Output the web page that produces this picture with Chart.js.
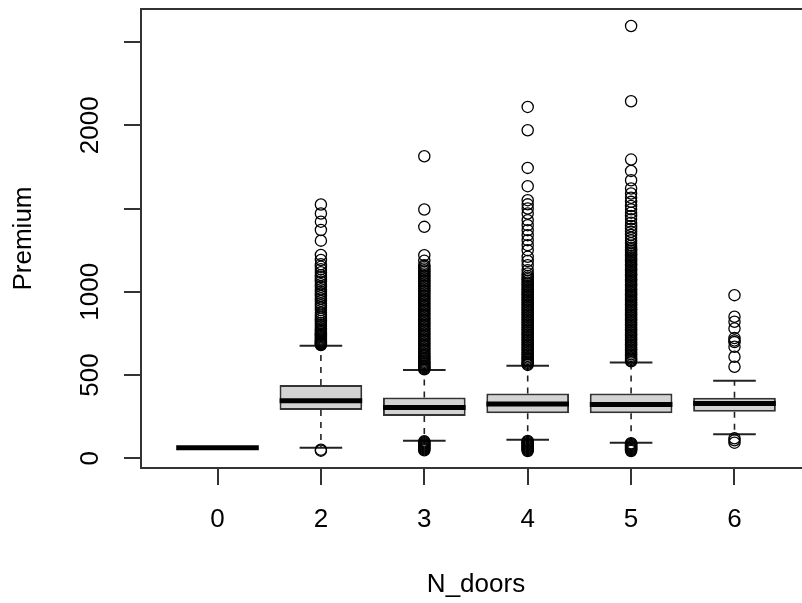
<!DOCTYPE html>
<html>
<head>
<meta charset="utf-8">
<script src="https://cdn.jsdelivr.net/npm/chart.js@4"></script>
<style>
  html, body { margin: 0; padding: 0; background: #fff; overflow: hidden; }
  canvas { display: block; }
</style>
</head>
<body>
<canvas id="boxChart" width="820" height="603"></canvas>
<script>
// N_doors categories and box statistics
var categories = ['0', '2', '3', '4', '5', '6'];
var q1 = [64, 290, 254, 270, 270, 280];
var medians = [64, 346, 306, 326, 324, 330];
var q3 = [64, 440, 366, 390, 390, 364];
var whiskerLow = [64, 64, 106, 112, 94, 144];
var whiskerHigh = [64, 676, 530, 556, 576, 466];

// outliers per category
var outliers0 = [];
var outliers2 = [46, 52,
    1524, 1470, 1421, 1371, 1307, 1221, 1191, 1165, 1150, 1135, 1118, 1100, 1088, 1072, 1060, 1045,
    1030, 1015, 1000, 988, 975, 960, 945, 930, 918, 905, 890, 875, 862, 850, 838, 825, 812, 800,
    790, 780, 772, 764, 756, 748, 741, 734, 727, 720, 714, 708, 702, 697, 692, 688, 684, 680];
var outliers3 = [48, 54, 60, 66, 72, 78, 84, 90, 96, 102,
    1814, 1494, 1390, 1220, 1186, 1160, 1150, 1140, 1130, 1120, 1110, 1100, 1090, 1080, 1070, 1060,
    1050, 1040, 1030, 1020, 1010, 1000, 990, 980, 970, 960, 950, 940, 930, 920, 910, 900, 890, 880,
    870, 860, 850, 840, 830, 820, 810, 800, 790, 780, 770, 760, 750, 740, 730, 720, 710, 700, 690,
    680, 670, 660, 650, 640, 630, 620, 612, 604, 596, 588, 580, 572, 565, 558, 552, 546, 540, 535];
var outliers4 = [44, 50, 56, 62, 68, 74, 80, 86, 92, 98, 104,
    2110, 1970, 1744, 1634, 1550, 1525, 1500, 1470, 1430, 1400, 1370, 1340, 1310, 1280, 1250, 1210,
    1185, 1160, 1130, 1110, 1095, 1085, 1075, 1065, 1055, 1045, 1035, 1025, 1015, 1005, 995, 985,
    975, 965, 955, 945, 935, 925, 915, 905, 895, 885, 875, 865, 855, 845, 835, 825, 815, 805, 795,
    785, 775, 765, 755, 745, 735, 725, 715, 705, 695, 685, 675, 665, 655, 645, 635, 625, 615, 605,
    597, 589, 581, 574, 567, 561];
var outliers5 = [44, 50, 56, 62, 68, 74, 80, 86, 91,
    2596, 2144, 1794, 1726, 1670, 1620, 1590, 1565, 1540, 1515, 1495, 1475, 1455, 1435, 1415, 1395,
    1378, 1360, 1342, 1325, 1308, 1292, 1277, 1265, 1255, 1245, 1235, 1225, 1215, 1205, 1195, 1185,
    1175, 1165, 1155, 1145, 1135, 1125, 1115, 1105, 1095, 1085, 1075, 1065, 1055, 1045, 1035, 1025,
    1015, 1005, 995, 985, 975, 965, 955, 945, 935, 925, 915, 905, 895, 885, 875, 865, 855, 845, 835,
    825, 815, 805, 795, 785, 775, 765, 755, 745, 735, 725, 715, 705, 695, 685, 675, 665, 655, 645,
    635, 625, 615, 606, 598, 590, 583];
var outliers6 = [94, 108, 120,
    980, 850, 820, 780, 722, 708, 698, 670, 610, 550];
var outliers = [outliers0, outliers2, outliers3, outliers4, outliers5, outliers6];

// y axis tick marks, and the labels R actually printed (1500 and 2500 were dropped)
var yTickMarks = [0, 500, 1000, 1500, 2000, 2500];
var yTickValues = [0, 500, 1000, 2000];
var yTickLabels = ['0', '500', '1000', '2000'];

Chart.defaults.font.family = '"Liberation Sans", Arial, sans-serif';
Chart.defaults.color = '#000';

var fontSize = 26;

var boxData = categories.map(function (c, i) { return { x: i + 1, y: [q1[i], q3[i]] }; });
var medianData = categories.map(function (c, i) { return { x: i + 1, y: medians[i] }; });
var capData = [];
var whiskerData = [];
categories.forEach(function (c, i) {
    capData.push({ x: i + 1, y: whiskerLow[i] }, { x: i + 1, y: whiskerHigh[i] });
    whiskerData.push(
        { x: i + 1, y: q3[i] }, { x: i + 1, y: whiskerHigh[i] }, { x: i + 1, y: null },
        { x: i + 1, y: q1[i] }, { x: i + 1, y: whiskerLow[i] }, { x: i + 1, y: null }
    );
});
var outlierData = [];
outliers.forEach(function (list, i) {
    list.forEach(function (v) { outlierData.push({ x: i + 1, y: v }); });
});

// rotated y tick labels and the plot frame, R style
var rBoxFrame = {
    id: 'rBoxFrame',
    afterDraw: function (chart) {
        var ctx = chart.ctx;
        var yScale = chart.scales.y;
        var a = chart.chartArea;
        ctx.save();
        ctx.font = fontSize + 'px "Liberation Sans", Arial, sans-serif';
        ctx.fillStyle = '#000';
        ctx.textAlign = 'center';
        ctx.textBaseline = 'middle';
        yTickValues.forEach(function (v, i) {
            ctx.save();
            ctx.translate(91, yScale.getPixelForValue(v));
            ctx.rotate(-Math.PI / 2);
            ctx.fillText(yTickLabels[i], 0, 0);
            ctx.restore();
        });
        ctx.strokeStyle = '#333';
        ctx.lineWidth = 2;
        ctx.strokeRect(a.left, a.top, a.right - a.left, a.bottom - a.top);
        ctx.restore();
    }
};

var ctx = document.getElementById('boxChart').getContext('2d');
var chart = new Chart(ctx, {
    type: 'bar',
    data: {
        datasets: [{
            type: 'line',
            label: 'outliers',
            data: outlierData,
            showLine: false,
            pointStyle: 'circle',
            pointRadius: 5.6,
            pointBorderWidth: 1.3,
            pointBorderColor: '#000',
            pointBackgroundColor: 'rgba(0,0,0,0)',
            order: 0
        }, {
            type: 'line',
            label: 'medians',
            data: medianData,
            showLine: false,
            pointStyle: 'line',
            pointRadius: 41.3,
            pointBorderWidth: 5,
            pointBorderColor: '#000',
            order: 1
        }, {
            type: 'line',
            label: 'caps',
            data: capData,
            showLine: false,
            pointStyle: 'line',
            pointRadius: 21.3,
            pointBorderWidth: 2,
            pointBorderColor: '#222',
            order: 2
        }, {
            label: 'boxes',
            data: boxData,
            backgroundColor: '#d3d3d3',
            borderColor: '#333',
            borderWidth: 2,
            borderSkipped: false,
            grouped: false,
            barPercentage: 1,
            categoryPercentage: 0.8,
            order: 3
        }, {
            type: 'line',
            label: 'whiskers',
            data: whiskerData,
            borderColor: '#222',
            borderWidth: 1.6,
            borderDash: [6, 6],
            pointRadius: 0,
            spanGaps: false,
            order: 4
        }]
    },
    options: {
        responsive: false,
        animation: false,
        layout: { autoPadding: false, padding: { top: 9, left: 0, right: 9, bottom: 0 } },
        plugins: {
            legend: { display: false },
            tooltip: { enabled: false }
        },
        scales: {
            x: {
                type: 'linear',
                min: 0.26,
                max: 6.74,
                offset: false,
                afterFit: function (scale) { scale.height = 135; },
                border: { display: false },
                grid: { offset: false, drawOnChartArea: false, drawTicks: true, tickLength: 17, color: '#333', lineWidth: 2 },
                ticks: {
                    stepSize: 1,
                    includeBounds: false,
                    autoSkip: false,
                    maxRotation: 0,
                    padding: 19,
                    font: { size: fontSize },
                    callback: function (v) { return categories[v - 1] !== undefined ? categories[v - 1] : ''; }
                },
                title: { display: true, text: 'N_doors', font: { size: fontSize }, padding: { top: 0, bottom: 3 } }
            },
            y: {
                type: 'linear',
                min: -58,
                max: 2698,
                afterBuildTicks: function (scale) {
                    scale.ticks = yTickMarks.map(function (v) { return { value: v }; });
                },
                afterFit: function (scale) { scale.width = 141; },
                border: { display: false },
                grid: { drawOnChartArea: false, drawTicks: true, tickLength: 17, color: '#333', lineWidth: 2 },
                ticks: { display: false },
                title: { display: true, text: 'Premium', font: { size: fontSize }, padding: { top: 8, bottom: 0 } }
            }
        }
    },
    plugins: [rBoxFrame]
});
</script>
</body>
</html>
